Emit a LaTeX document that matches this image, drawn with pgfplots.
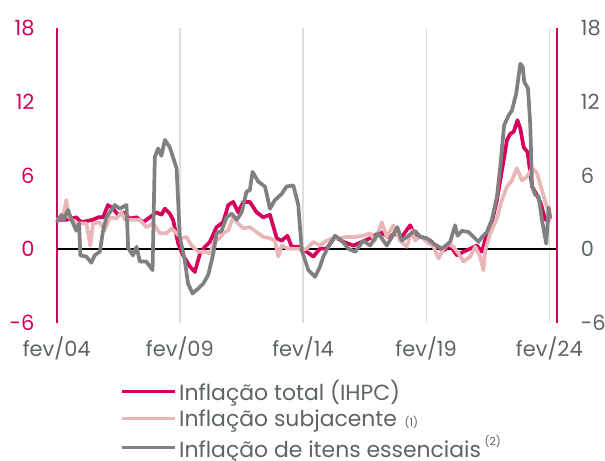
\documentclass[border=0pt]{standalone}
\usepackage{fontspec}
\setmainfont{Poppins}
\usepackage{pgfplots}
\pgfplotsset{compat=1.18}
\definecolor{cTot}{RGB}{214,0,92}
\definecolor{cSub}{RGB}{232,182,182}
\definecolor{cEss}{RGB}{128,128,128}
\definecolor{cTxt}{RGB}{92,100,102}
\definecolor{cGrid}{RGB}{222,222,222}
\begin{document}
\begin{tikzpicture}
\path[use as bounding box] (-56.7bp,-138bp) rectangle (548.3bp,323bp);
\begin{axis}[
  scale only axis, width=500bp, height=295bp,
  xmin=0, xmax=243.6, ymin=-6, ymax=18,
  axis x line*=bottom, axis y line*=left,
  x axis line style={draw=none},
  y axis line style={draw=cTot, line width=2.2bp, -},
  major tick length=0pt,
  xtick={0,60,120,180,240},
  xticklabels={fev/04,fev/09,fev/14,fev/19,fev/24},
  ytick={-6,0,6,12,18},
  yticklabels={-6,0,6,12,18},
  xmajorgrids, grid style={cGrid, line width=1.3bp},
  xticklabel style={text=cTxt, font=\fontsize{21}{21}\selectfont, inner sep=0pt, anchor=north, yshift=-14bp},
  yticklabel style={text=cTot, font=\fontsize{21}{21}\selectfont, inner sep=0pt, anchor=east, xshift=-22bp},
  legend cell align=left,
  legend image code/.code={\draw[#1, line width=3bp] (0bp,0bp) -- (53bp,0bp);},
  legend style={at={(axis description cs:0.1276,-0.19)}, anchor=north west, draw=none, fill=none,
    font=\fontsize{22}{22}\selectfont, text=cTxt, inner sep=0pt, row sep=5.5bp,
    nodes={inner xsep=2.5bp, inner ysep=1bp}},
  clip=false,
]
\addplot[black, line width=1.8bp, forget plot] coordinates {(0,0) (243.6,0)};
\addplot[cTot, line width=3.7bp, line join=round] coordinates {
(0,2.4)(4.7,2.4)(9.6,2.6)(12,2.2)(17.7,2.4)(20.2,2.6)(22.6,2.6)(25,3.6)(27.5,3.3)(29.9,2.8)(32.4,3.0)(35.6,2.5)(38.9,2.6)(42.1,2.2)(45.4,2.6)(48.6,3.0)(51,2.8)(52.7,3.3)(55.1,2.9)(56.7,2.4)(59.2,0.45)(61.6,-0.5)(64.9,-1.4)(67.3,-1.85)(69.8,-0.35)(72.2,0.2)(74.6,0.6)(77.9,1.8)(81.1,2.2)(83.6,3.6)(86,3.85)(88.4,3.0)(90.9,3.85)(94.1,3.85)(97.4,3.0)(100.6,2.6)(103.9,2.8)(107.2,0.9)(109.6,0.7)(112.4,1.1)(114.5,0.2)(117.7,0.2)(121.8,-0.2)(125,-0.6)(128.3,0.05)(131.5,0.05)(135.6,1.0)(139.7,0.6)(144.6,0.3)(148.6,0.6)(152.7,0.9)(157.6,1.4)(161.6,1.0)(165.7,1.3)(168.1,1.0)(172.2,1.95)(174.6,1.1)(177.9,1.0)(182,0.7)(185.2,0.2)(188.5,-0.1)(191.7,0.3)(195,-0.5)(198.2,-0.2)(201.5,0.05)(204.7,0.3)(207.2,-0.2)(209.6,1.3)(212,2.2)(214.5,4.0)(216.9,6.4)(219.4,8.9)(221,9.4)(222.6,9.55)(224.5,10.5)(225.9,9.8)(227.5,8.3)(229.4,7.9)(231.6,5.1)(234,4.4)(235.9,3.7)(238,2.4)(240.5,2.4)};
\addlegendentry{Inflação total (IHPC)}
\addplot[cSub, line width=3.7bp, line join=round] coordinates {
(0,2.4)(3.1,2.6)(4.7,4.0)(6,2.6)(9.6,2.1)(14.5,2.1)(16.4,0.3)(17.7,2.1)(21,2.2)(23.4,1.55)(25.9,2.6)(29.1,2.5)(31.6,3.0)(33.2,2.4)(35.6,2.4)(40.5,2.4)(43.7,1.8)(47,2.1)(50.2,1.3)(53.5,1.3)(56,1.7)(58.4,1.3)(60.8,0.9)(63.3,1.0)(65.7,0.3)(68.9,-0.2)(72.2,-0.2)(74.6,-0.35)(77.1,0.7)(79.5,0.9)(81.1,1.3)(83.6,1.55)(86,2.6)(88.4,2.1)(90.9,1.7)(94.1,1.8)(97.4,1.4)(100.6,1.0)(103.9,0.9)(106.3,0.7)(108,-0.6)(109.6,0.3)(112.8,0.05)(118,0.05)(119.4,-0.1)(121.8,0.05)(125,0.6)(128.3,0.3)(131.5,0.7)(134.8,0.9)(138,0.9)(141.3,1.0)(145.4,1.0)(149.4,1.1)(152.7,1.3)(155.1,0.7)(158.4,2.2)(160.8,1.0)(164.1,1.95)(167.3,0.7)(170.6,0.2)(173,1.55)(174.6,0.7)(177.1,1.1)(180.3,0.6)(183.6,0.2)(186,-0.75)(188.5,0.05)(190.9,0.45)(193.3,0.2)(195.8,-0.35)(198.2,-1.0)(201.5,-0.6)(203.9,0.2)(206.3,-0.6)(207.9,-1.7)(208.8,-0.1)(211.2,1.3)(214.5,2.5)(216.9,4.0)(219.4,5.1)(221.8,5.6)(224.2,6.6)(226.7,5.6)(229.1,5.9)(231.6,6.6)(234,6.2)(236.4,4.8)(238.9,3.4)(240.5,2.4)};
\addlegendentry{Inflação subjacente {\fontsize{11}{11}\selectfont\,(1)}}
\addplot[cEss, line width=3.7bp, line join=round] coordinates {
(0,2.2)(2.3,2.8)(3.4,2.4)(5.5,3.2)(7.2,2.4)(9.6,1.5)(10.9,2.1)(11.5,-0.5)(14.5,-0.6)(16.9,-1.1)(18.5,-0.5)(21,-0.2)(22.6,1.5)(24.2,2.6)(26.7,3.2)(28.3,3.6)(30.7,3.3)(34,3.6)(34.8,0.1)(37.2,-0.5)(38.9,0.2)(40.5,-1.0)(43.7,-1.0)(46.7,-1.7)(47.8,7.5)(49.4,8.2)(51,7.6)(52.7,8.9)(55.1,8.3)(57.6,7.0)(58.4,6.6)(60,1.0)(62.4,-0.9)(64,-2.8)(66.2,-3.6)(68.9,-3.2)(71.4,-2.8)(73.8,-2.1)(76.3,-0.35)(77.9,1.3)(80.3,1.5)(82.8,2.6)(85.2,2.9)(87.7,2.4)(90.1,3.0)(92.5,4.7)(94.1,4.8)(95.4,6.3)(98.2,5.5)(101.5,5.1)(103.9,3.3)(106.3,4.0)(109.6,4.5)(112,5.1)(115.3,5.2)(117.7,3.6)(119.4,-0.1)(122.6,-1.7)(125.9,-2.25)(128.3,-1.4)(129.9,-0.6)(132.4,0.2)(135.6,1.1)(138.9,0.7)(142.1,0.05)(145.4,-0.2)(149.4,0.7)(152.7,0.3)(156.7,1.3)(160.8,0.3)(163.3,1.0)(166,1.8)(168.1,0.7)(171.4,1.1)(174.6,1.5)(177.1,1.0)(180.3,0.9)(183.6,0.45)(187.7,0.05)(191.7,0.6)(194.1,1.95)(195.3,1.1)(197.4,1.5)(200.6,1.4)(203.1,1.0)(205.5,0.6)(207.2,1.0)(209.6,1.4)(212,2.4)(214.5,4.3)(216.1,6.7)(218,10.1)(220.2,10.9)(221.8,11.3)(223.9,12.7)(225.9,15.1)(227.1,14.8)(227.8,13.6)(229.6,13.1)(230.7,10.2)(231.6,5.1)(233.2,4.4)(234.8,4.3)(236.4,2.4)(238.5,0.45)(239.7,3.4)(240.5,2.5)};
\addlegendentry{Inflação de itens essenciais\,\raisebox{0.55em}{\fontsize{11}{11}\selectfont(2)}}
\end{axis}
\begin{axis}[
  scale only axis, width=500bp, height=295bp,
  xmin=0, xmax=243.6, ymin=-6, ymax=18,
  axis x line=none, axis y line*=right,
  y axis line style={draw=cTot, line width=2.2bp, -},
  major tick length=0pt,
  ytick={-6,0,6,12,18},
  yticklabels={-6,0,6,12,18},
  yticklabel style={text=cTxt, font=\fontsize{21}{21}\selectfont, inner sep=0pt, anchor=west, xshift=24bp},
]
\end{axis}
\end{tikzpicture}
\end{document}
